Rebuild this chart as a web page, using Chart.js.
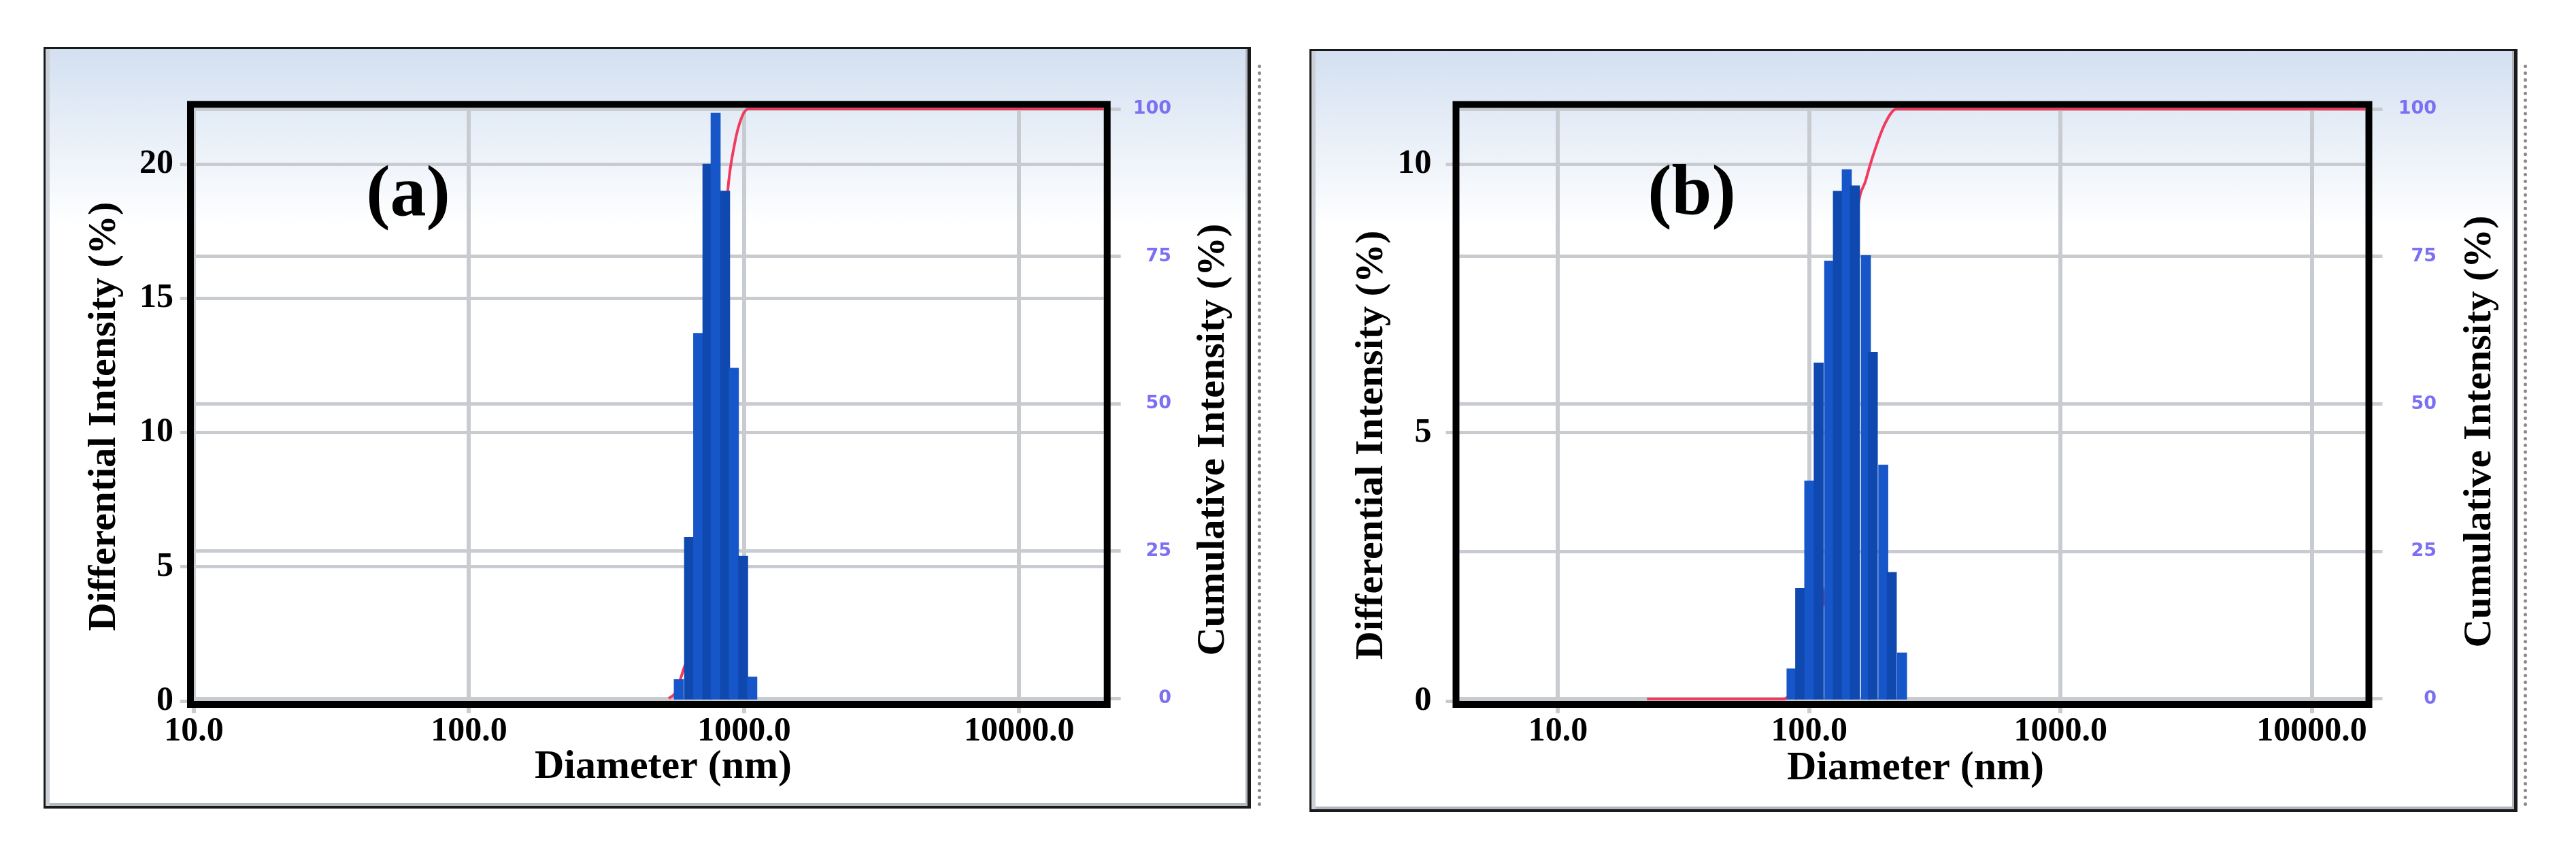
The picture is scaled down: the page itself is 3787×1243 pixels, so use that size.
<!DOCTYPE html>
<html>
<head>
<meta charset="utf-8">
<title>Particle size distribution</title>
<script src="https://cdn.jsdelivr.net/npm/chart.js@4.4.1/dist/chart.umd.min.js"></script>
<style>
  html, body { margin: 0; padding: 0; background: #fff; }
  body { width: 3787px; height: 1243px; position: relative; overflow: hidden; }
  .panel {
    position: absolute; box-sizing: border-box;
    border: 3px solid #1a1a1a; border-right-width: 5px; border-bottom-width: 4px;
    background: linear-gradient(to bottom, #d3e0f1 0px, #ffffff 260px);
    box-shadow: inset 6px 0 0 #ccd1d8, inset -3px 0 0 #b0b5bc, inset 0 -4px 0 #b3b8bf;
  }
  #panelA { left: 64px; top: 69px; width: 1775px; height: 1119px; }
  #panelB { left: 1925px; top: 72px; width: 1776px; height: 1121px; }
  .ruler { position: absolute; width: 0; border-left: 5px dotted #8a8a8a; }
  #rulerA { left: 1849px; top: 95px; height: 1090px; }
  #rulerB { left: 3710px; top: 95px; height: 1090px; }
  canvas { position: absolute; left: 0; top: 0; }
</style>
</head>
<body>
<div class="panel" id="panelA"></div>
<div class="panel" id="panelB"></div>
<div class="ruler" id="rulerA"></div>
<div class="ruler" id="rulerB"></div>
<canvas id="chartA" width="3787" height="1243"></canvas>
<canvas id="chartB" width="3787" height="1243"></canvas>
<script>
// (a) differential intensity histogram
const diamA = [579, 631, 681, 736, 788, 853, 918, 992, 1071];
const diffA = [0.8, 6.1, 13.7, 20.0, 21.9, 19.0, 12.4, 5.4, 0.9];
// (a) cumulative intensity curve
const cumDiamA = [532, 563, 603, 670, 712, 762, 822, 872, 923, 977, 1035, 20300];
const cumA = [0, 1, 5, 12, 25, 45, 66, 86, 94, 98.4, 100, 100];

// (b) differential intensity histogram
const diamB = [85, 92, 100, 109, 120, 130, 141, 152, 168, 179, 197, 213, 234];
const diffB = [0.6, 2.1, 4.1, 6.3, 8.2, 9.5, 9.9, 9.6, 8.3, 6.5, 4.4, 2.4, 0.9];
// (b) cumulative intensity curve
const cumDiamB = [22.6, 79, 88, 98, 110, 122, 134, 146, 155, 168, 179, 200, 222, 16360];
const cumB = [0, 0, 2, 6, 13, 26, 44, 64, 82, 88, 92, 97.5, 100, 100];

// tick labels
const xTicks = [10, 100, 1000, 10000];
const leftTicksA = [0, 5, 10, 15, 20];
const leftTicksB = [0, 5, 10];
const rightTicks = [0, 25, 50, 75, 100];

const gridColor = '#c8ccd1';
const serif = '"Liberation Serif", "Times New Roman", serif';

function toPoints(xs, ys) {
    return xs.map((x, i) => ({ x: x, y: ys[i] }));
}

// black frame around the plot, axis titles and panel letter
const framePlugin = {
    id: 'frame',
    afterDatasetsDraw(chart) {
        const { ctx, chartArea: a } = chart;
        ctx.save();
        ctx.lineWidth = 10;
        ctx.strokeStyle = '#000';
        ctx.strokeRect(a.left - 5, a.top - 5, a.right - a.left + 10, a.bottom - a.top + 10);
        ctx.restore();
    },
    afterDraw(chart, args, opts) {
        const ctx = chart.ctx;
        ctx.save();
        ctx.fillStyle = '#000';
        ctx.textAlign = 'center';
        ctx.textBaseline = 'middle';
        ctx.font = 'bold 58px ' + serif;
        // left title
        ctx.save();
        ctx.translate(opts.leftTitle[0], opts.leftTitle[1]);
        ctx.rotate(-Math.PI / 2);
        ctx.fillText('Differential Intensity (%)', 0, 0);
        ctx.restore();
        // right title (reads bottom to top, like the left one)
        ctx.save();
        ctx.translate(opts.rightTitle[0], opts.rightTitle[1]);
        ctx.rotate(-Math.PI / 2);
        ctx.fillText('Cumulative Intensity (%)', 0, 0);
        ctx.restore();
        // x title
        ctx.font = 'bold 60px ' + serif;
        ctx.fillText('Diameter (nm)', opts.xTitle[0], opts.xTitle[1]);
        // panel letter
        ctx.font = 'bold 106px ' + serif;
        ctx.fillText(opts.letter, opts.letterPos[0], opts.letterPos[1]);
        ctx.restore();
    }
};

function makeChart(id, s) {
    return new Chart(document.getElementById(id), {
        type: 'bar',
        data: {
            datasets: [
                {
                    type: 'bar',
                    data: toPoints(s.diam, s.diff),
                    yAxisID: 'y',
                    backgroundColor: c => (c.dataIndex % 2 ? '#0f49b0' : '#1656c9'),
                    borderWidth: 0,
                    barThickness: 14,
                    order: 0
                },
                {
                    type: 'line',
                    data: toPoints(s.cumDiam, s.cum),
                    yAxisID: 'y2',
                    borderColor: '#f23a5e',
                    borderWidth: 4,
                    pointRadius: 0,
                    fill: false,
                    cubicInterpolationMode: 'monotone',
                    order: 1
                }
            ]
        },
        options: {
            responsive: false,
            animation: false,
            devicePixelRatio: 1,
            layout: { padding: s.padding },
            plugins: {
                legend: { display: false },
                tooltip: { enabled: false },
                frame: s.text
            },
            scales: {
                x: {
                    type: 'logarithmic',
                    min: s.xMin,
                    max: s.xMax,
                    offset: false,
                    afterBuildTicks: sc => { sc.ticks = xTicks.map(v => ({ value: v })); },
                    afterFit: sc => { sc.height = 100; },
                    grid: { color: gridColor, lineWidth: 6, tickLength: 18, offset: false },
                    border: { display: false },
                    ticks: {
                        font: { family: serif, size: 50, weight: 'bold' },
                        color: '#000',
                        padding: -3,
                        maxRotation: 0,
                        autoSkip: false,
                        callback: v => Number(v).toFixed(1)
                    }
                },
                y: {
                    position: 'left',
                    min: 0,
                    max: s.yMax,
                    afterBuildTicks: sc => { sc.ticks = s.leftTicks.map(v => ({ value: v })); },
                    afterFit: sc => { sc.width = 100; },
                    grid: { color: gridColor, lineWidth: 5, tickLength: 20 },
                    border: { display: false },
                    ticks: {
                        font: { family: serif, size: 50, weight: 'bold' },
                        color: '#000',
                        padding: s.leftPad
                    }
                },
                y2: {
                    position: 'right',
                    min: s.y2Min,
                    max: s.y2Max,
                    afterBuildTicks: sc => { sc.ticks = rightTicks.map(v => ({ value: v })); },
                    afterFit: sc => { sc.width = s.rightWidth; },
                    grid: { color: gridColor, lineWidth: 5, tickLength: 25 },
                    border: { display: false },
                    ticks: {
                        font: { family: '"DejaVu Sans", sans-serif', size: 27, weight: 'bold' },
                        color: '#7b6ff2',
                        crossAlign: 'far',
                        padding: 10
                    }
                }
            }
        },
        plugins: [framePlugin]
    });
}

makeChart('chartA', {
    diam: diamA, diff: diffA, cumDiam: cumDiamA, cum: cumA,
    xMin: 10, xMax: 20300, yMax: 22.1, y2Min: -0.43, y2Max: 100.2,
    leftTicks: leftTicksA, leftPad: 10, rightWidth: 99.3,
    padding: { left: 185, right: 2065, top: 158.3, bottom: 113 },
    text: { letter: '(a)', letterPos: [600, 289], leftTitle: [154, 612], rightTitle: [1784, 646], xTitle: [975, 1127] }
});

makeChart('chartB', {
    diam: diamB, diff: diffB, cumDiam: cumDiamB, cum: cumB,
    xMin: 4.05, xMax: 16360, yMax: 11.05, y2Min: -0.35, y2Max: 100.2,
    leftTicks: leftTicksB, leftPad: 21, rightWidth: 104.5,
    padding: { left: 2045.5, right: 205, top: 158.5, bottom: 113 },
    text: { letter: '(b)', letterPos: [2487, 288], leftTitle: [2017, 654], rightTitle: [3646, 634], xTitle: [2816, 1129] }
});
</script>
</body>
</html>
